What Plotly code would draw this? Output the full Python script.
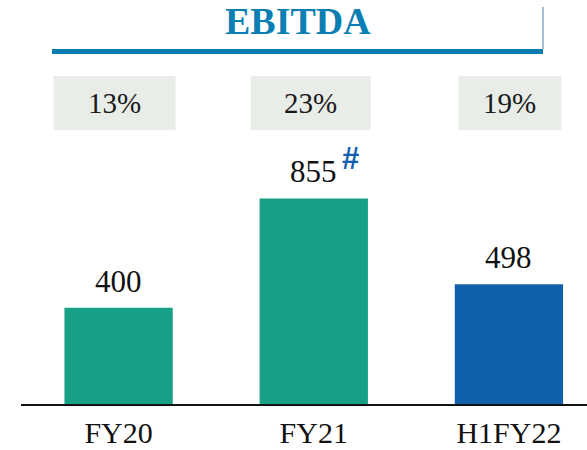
import plotly.graph_objects as go

categories = ["FY20", "FY21", "H1FY22"]
ebitda = [400, 855, 498]
margins = ["13%", "23%", "19%"]
bar_colors = ["#18A086", "#18A086", "#1160AE"]

W, H = 587, 450
L, B, T = 21, 46, 0
plot_h = H - B - T
y_max = 1680

def py(pix):
    # convert a pixel row (from top) into paper y
    return (H - B - pix) / plot_h

def px(pix):
    return (pix - L) / (W - L)

serif = "Liberation Serif"

fig = go.Figure(go.Bar(
    x=list(range(len(categories))), y=ebitda,
    marker=dict(color=bar_colors, line=dict(width=0)),
    width=0.555, hoverinfo="skip",
))

annotations = []
shapes = []
for i, v in enumerate(ebitda):
    annotations.append(dict(x=i, y=v, xref="x", yref="y", text=str(v),
                            showarrow=False, yanchor="bottom", yshift=7,
                            font=dict(family=serif, size=31, color="#111")))

# margin boxes above each bar
box_offsets = [(-0.333, 0.292), (-0.323, 0.292), (-0.259, 0.269)]
for i, (m, (a, b)) in enumerate(zip(margins, box_offsets)):
    shapes.append(dict(type="rect", xref="x", yref="paper", x0=i + a, x1=i + b,
                       y0=py(130), y1=py(76), fillcolor="#E8EDE8",
                       line=dict(width=0), layer="below"))
    annotations.append(dict(x=i + (a + b) / 2, y=py(103), xref="x", yref="paper",
                            text=m, showarrow=False, yanchor="middle",
                            font=dict(family=serif, size=29, color="#1a1a1a")))

# footnote marker on FY21
annotations.append(dict(x=1, y=ebitda[1], xref="x", yref="y", text="<b>#</b>",
                        showarrow=False, xanchor="left", yanchor="bottom",
                        xshift=26, yshift=20,
                        font=dict(family="Liberation Sans", size=31, color="#1160AE")))

# title and rule
annotations.append(dict(x=px(298), y=py(21), xref="paper", yref="paper",
                        text="<b>EBITDA</b>", showarrow=False, yanchor="middle",
                        font=dict(family=serif, size=38, color="#0B7FB3")))
shapes.append(dict(type="line", xref="paper", yref="paper", x0=px(52), x1=px(543),
                   y0=py(51.5), y1=py(51.5), line=dict(color="#0A7DAF", width=5)))
shapes.append(dict(type="line", xref="paper", yref="paper", x0=px(543), x1=px(543),
                   y0=py(7), y1=py(49), line=dict(color="#4F7FA0", width=1)))

fig.update_layout(
    width=W, height=H,
    margin=dict(l=L, r=0, t=T, b=B, pad=0),
    paper_bgcolor="white", plot_bgcolor="white",
    showlegend=False,
    xaxis=dict(range=[-0.5, 2.4], tickmode="array", tickvals=list(range(len(categories))),
               ticktext=categories, showgrid=False, zeroline=False,
               showline=True, linecolor="#111", linewidth=1.5, ticks="",
               ticklabelstandoff=1,
               tickfont=dict(family=serif, size=30, color="#111")),
    yaxis=dict(range=[0, y_max], visible=False, showgrid=False, zeroline=False),
    annotations=annotations, shapes=shapes,
)

fig.write_html("out.html")
